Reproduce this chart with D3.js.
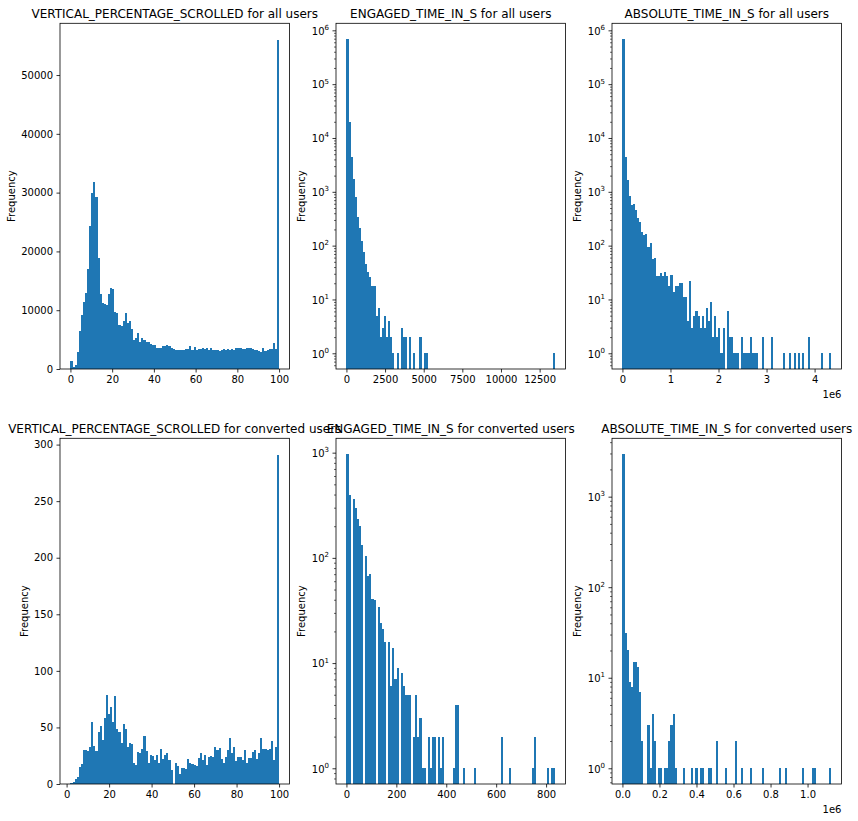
<!DOCTYPE html>
<html><head><meta charset="utf-8">
<script src="https://cdn.jsdelivr.net/npm/d3@7"></script>
<style>body{margin:0;background:#fff} svg text{font-family:"DejaVu Sans",sans-serif;fill:#000}</style>
</head><body><svg id="c" width="858" height="821"></svg>
<script>
// ---------- data ----------
const titles = [
  "VERTICAL_PERCENTAGE_SCROLLED for all users",
  "ENGAGED_TIME_IN_S for all users",
  "ABSOLUTE_TIME_IN_S for all users",
  "VERTICAL_PERCENTAGE_SCROLLED for converted users",
  "ENGAGED_TIME_IN_S for converted users",
  "ABSOLUTE_TIME_IN_S for converted users"
];
// data range [min, max] of each histogram (100 bins each)
const binRanges = [[0,100],[0,13500],[0,4343000],[1.8,100],[0,836],[0,1127000]];
const logScale = [false,true,true,false,true,true];

const vpsAllCounts = [
 1360,340,740,2890,6450,9170,11380,12910,16990,24290,
 29900,31770,29220,18860,12740,11210,10990,10870,12740,13760,
 13590,9680,9510,7470,7300,8150,9510,7810,8150,6800,
 4930,5270,6120,4590,5270,4930,4590,4590,4250,4080,
 4080,3570,3570,3570,3910,3910,4080,3910,3570,3400,
 3230,3230,3230,3230,3230,3340,3400,3900,3230,3740,
 3230,3340,3400,3500,3400,3570,3230,3510,3230,3230,
 3230,3110,3230,3340,3230,3340,3230,3400,3230,3570,
 3570,3570,3450,3400,3570,3570,3570,3400,3230,3230,
 3050,2940,3570,3110,3230,3400,3400,4420,3400,56000];
const engAllCounts = [
 690000,20000,4500,1700,790,340,210,120,75,45,
 33,26,18,18,5,7,2,3,5,2,
 4,2,1,0,1,0,3,2,2,0,
 2,0,1,0,0,2,0,1,1,0,
 0,0,0,0,0,0,0,0,0,0,
 0,0,0,0,0,0,0,0,0,0,
 0,0,0,0,0,0,0,0,0,0,
 0,0,0,0,0,0,0,0,0,0,
 0,0,0,0,0,0,0,0,0,0,
 0,0,0,0,0,0,0,0,0,1];
const absAllCounts = [
 690000,4390,1690,820,558,583,451,321,270,177,
 155,162,93,110,56,58,27,27,31,27,
 32,27,18,29,14,18,18,20,20,11,
 11,4,22,3,5,6,5,3,5,3,
 7,4,9,2,5,2,3,1,3,0,
 6,2,2,1,1,1,0,2,1,1,
 1,2,1,1,1,0,0,2,0,0,
 0,2,0,0,0,0,0,1,0,0,
 1,0,1,0,1,0,1,0,0,2,
 0,0,0,0,0,1,0,0,0,1];
const vpsConvCounts = [
 1,2,4,6,15,18,30,30,29,33,
 55,34,29,46,51,39,58,79,62,68,
 55,78,49,46,36,53,49,33,36,35,
 19,17,28,27,31,42,29,19,26,25,
 21,26,19,31,22,26,27,21,12,0,
 19,16,9,14,14,13,22,19,18,17,
 16,23,27,21,26,17,24,25,24,33,
 30,32,22,19,24,30,41,27,33,20,
 24,24,21,30,19,23,23,28,30,22,
 27,41,31,31,30,31,38,21,33,291];
const engConvCounts = [
 971,396,0,362,296,234,201,133,0,104,
 67,70,41,40,0,34,24,21,16,0,
 16,6,14,7,9,0,8,6,5,5,
 5,0,2,5,2,3,1,1,0,2,
 1,2,2,0,2,1,2,0,0,0,
 0,1,4,4,0,0,1,0,0,0,
 0,1,0,0,0,0,0,0,0,0,
 0,0,0,0,2,0,0,0,1,0,
 0,0,0,0,0,0,0,0,0,1,
 2,0,0,0,0,0,1,0,1,1];
const absConvCounts = [
 2958,31,20,9,8,15,15,13,7,2,
 0,0,3,1,4,2,0,1,1,0,
 1,1,2,3,4,1,0,0,0,1,
 0,0,0,1,0,1,0,1,1,0,
 0,1,1,0,0,2,0,0,0,1,
 0,0,0,0,2,0,0,1,0,0,
 0,1,0,0,0,0,0,1,0,0,
 0,0,0,0,0,1,0,0,1,0,
 0,0,0,0,0,0,1,0,0,0,
 0,1,1,0,0,0,0,0,0,1];
const allCounts = [vpsAllCounts,engAllCounts,absAllCounts,vpsConvCounts,engConvCounts,absConvCounts];

const xTickValues = [
 [0,20,40,60,80,100],
 [0,2500,5000,7500,10000,12500],
 [0,1e6,2e6,3e6,4e6],
 [0,20,40,60,80,100],
 [0,200,400,600,800],
 [0,2e5,4e5,6e5,8e5,1e6]];
const xTickLabels = [
 ["0","20","40","60","80","100"],
 ["0","2500","5000","7500","10000","12500"],
 ["0","1","2","3","4"],
 ["0","20","40","60","80","100"],
 ["0","200","400","600","800"],
 ["0.0","0.2","0.4","0.6","0.8","1.0"]];
const yTickValues = [
 [0,10000,20000,30000,40000,50000],
 [1,10,100,1000,10000,100000,1000000],
 [1,10,100,1000,10000,100000,1000000],
 [0,50,100,150,200,250,300],
 [1,10,100,1000],
 [1,10,100,1000]];
const offsetTexts = [null,null,"1e6",null,null,"1e6"];
const yLabel = "Frequency";
const barColor = "#1f77b4";

// ---------- layout ----------
const svg = d3.select("#c");
const W = 229.5, H = 345.7;
const lefts = [60, 336, 612], tops = [23.3, 438.3];

allCounts.forEach((counts, idx) => {
  const col = idx % 3, row = Math.floor(idx / 3);
  const x0 = lefts[col], y0 = tops[row], yb = y0 + H;
  const [mn, mx] = binRanges[idx];
  const span = mx - mn, n = counts.length, bw = span / n;
  const xs = d3.scaleLinear().domain([mn - 0.05 * span, mx + 0.05 * span]).range([x0, x0 + W]);
  const maxC = d3.max(counts);
  let ys;
  if (logScale[idx]) {
    const hi = Math.log10(maxC), lo = 0, pad = 0.05 * (hi - lo);
    ys = d3.scaleLog().domain([Math.pow(10, lo - pad), Math.pow(10, hi + pad)]).range([yb, y0]);
  } else {
    ys = d3.scaleLinear().domain([0, maxC * 1.05]).range([yb, y0]);
  }
  const g = svg.append("g");
  const cid = "clip" + idx;
  g.append("clipPath").attr("id", cid).append("rect").attr("x", x0).attr("y", y0).attr("width", W).attr("height", H);

  g.append("g").attr("clip-path", `url(#${cid})`)
    .selectAll("rect").data(counts.map((c, i) => ({c, i})).filter(d => d.c > 0))
    .join("rect")
    .attr("x", d => xs(mn + d.i * bw))
    .attr("width", d => xs(mn + (d.i + 1) * bw) - xs(mn + d.i * bw))
    .attr("y", d => ys(d.c))
    .attr("height", d => yb - ys(d.c))
    .attr("fill", barColor)
    .attr("shape-rendering", "crispEdges");

  // x axis
  const xa = g.append("g").attr("transform", `translate(0,${yb})`)
    .call(d3.axisBottom(xs).tickValues(xTickValues[idx]).tickFormat((d, i) => xTickLabels[idx][i]).tickSize(3.5).tickPadding(3.5));
  xa.select(".domain").remove();
  xa.selectAll("line").attr("stroke", "#000").attr("stroke-width", 0.8);
  xa.selectAll("text").attr("font-size", 10).attr("font-family", "DejaVu Sans").attr("fill", "#000");

  // y axis
  const ya = g.append("g").attr("transform", `translate(${x0},0)`)
    .call(d3.axisLeft(ys).tickValues(yTickValues[idx]).tickFormat(d => String(d)).tickSize(3.5).tickPadding(3.5));
  ya.select(".domain").remove();
  ya.selectAll("line").attr("stroke", "#000").attr("stroke-width", 0.8);
  ya.selectAll("text").attr("font-size", 10).attr("font-family", "DejaVu Sans").attr("fill", "#000");
  if (logScale[idx]) {
    ya.selectAll("text").each(function(d) {
      const t = d3.select(this);
      t.text("10").attr("dy", "0.38em");
      t.append("tspan").attr("dy", -4.8).attr("font-size", 7).text(Math.round(Math.log10(d)));
    });
    const [dlo, dhi] = ys.domain();
    const minors = [];
    for (let e = Math.floor(Math.log10(dlo)); e <= Math.ceil(Math.log10(dhi)); e++)
      for (let m = 2; m <= 9; m++) { const v = m * Math.pow(10, e); if (v >= dlo && v <= dhi) minors.push(v); }
    const ma = g.append("g").attr("transform", `translate(${x0},0)`)
      .call(d3.axisLeft(ys).tickValues(minors).tickFormat("").tickSize(2));
    ma.select(".domain").remove();
    ma.selectAll("line").attr("stroke", "#000").attr("stroke-width", 0.6);
  }

  // spines
  g.append("rect").attr("x", x0).attr("y", y0).attr("width", W).attr("height", H)
    .attr("fill", "none").attr("stroke", "#000").attr("stroke-width", 0.8);

  // y label (placed left of the tick labels)
  let minX = Infinity;
  ya.selectAll("text").each(function() { const b = this.getBBox(); minX = Math.min(minX, b.x); });
  const lx = x0 + minX - 4 - 2.4;
  g.append("text").attr("transform", `translate(${lx},${y0 + H / 2}) rotate(-90)`)
    .attr("text-anchor", "middle").attr("font-size", 10).text(yLabel);

  // title
  g.append("text").attr("x", x0 + W / 2).attr("y", y0 - 5.6)
    .attr("text-anchor", "middle").attr("font-size", 12).text(titles[idx]);

  // offset text
  if (offsetTexts[idx]) {
    g.append("text").attr("x", x0 + W).attr("y", yb + 29)
      .attr("text-anchor", "end").attr("font-size", 10).text(offsetTexts[idx]);
  }
});
</script>
</body></html>
